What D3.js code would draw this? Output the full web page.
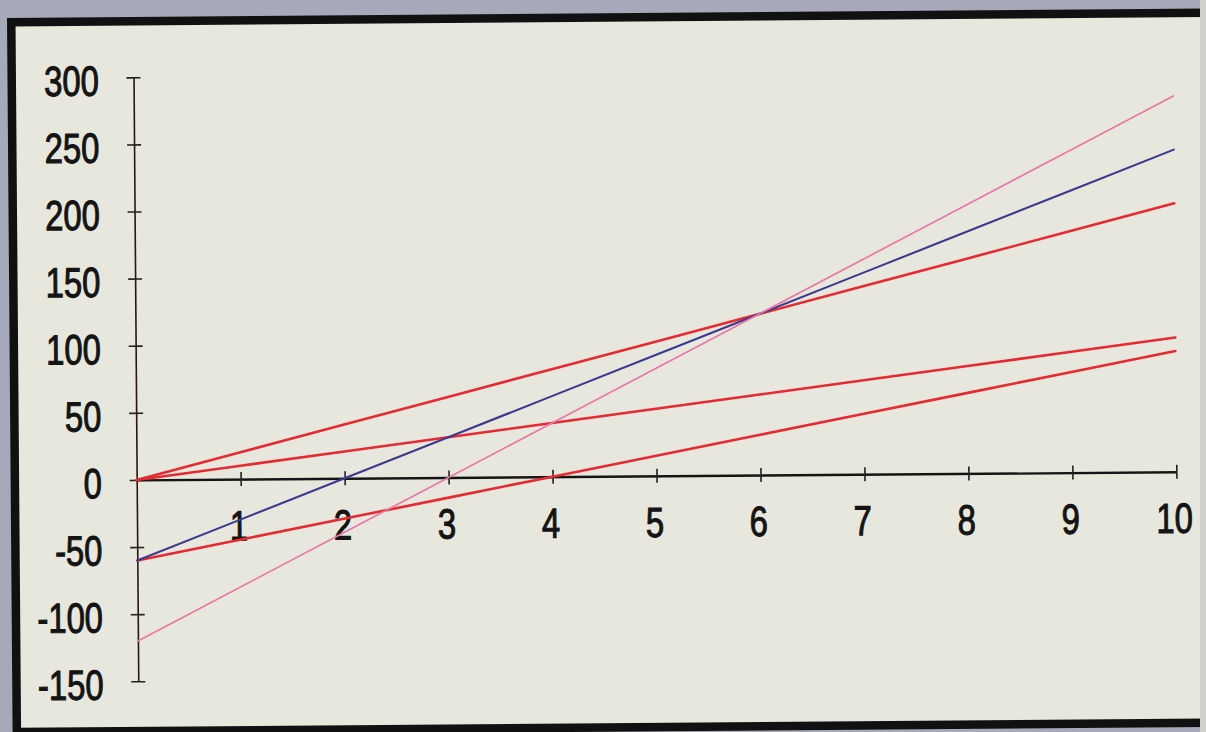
<!DOCTYPE html>
<html>
<head>
<meta charset="utf-8">
<script src="https://cdn.jsdelivr.net/npm/d3@7"></script>
<style>
  html, body { margin: 0; padding: 0; background: #a6a9b9; overflow: hidden; }
  svg { display: block; }
</style>
</head>
<body>
<svg id="chart" width="1206" height="732"></svg>
<script>
// x positions and the five straight-line series
const xValues    = [0, 1, 2, 3, 4, 5, 6, 7, 8, 9, 10];
const redSteep   = [0, 20, 40, 60, 80, 100, 120, 140, 160, 180, 200];
const redShallow = [0, 10, 20, 30, 40, 50, 60, 70, 80, 90, 100];
const redOffset  = [-60, -45, -30, -15, 0, 15, 30, 45, 60, 75, 90];
const blueLine   = [-60, -30, 0, 30, 60, 90, 120, 150, 180, 210, 240];
const pinkLine   = [-120, -80, -40, 0, 40, 80, 120, 160, 200, 240, 280];

// axis tick labels
const xTickLabels = [1, 2, 3, 4, 5, 6, 7, 8, 9, 10];
const yTickLabels = [-150, -100, -50, 0, 50, 100, 150, 200, 250, 300];

const W = 1206, H = 732;
const svg = d3.select("#chart");

svg.append("rect").attr("width", W).attr("height", H).attr("fill", "#a6a9b9");

// whole sheet sits slightly tilted
const sheet = svg.append("g").attr("transform", `rotate(-0.45 ${W / 2} ${H / 2})`);

// cream panel, framed on the top, left and bottom
const panel = { left: 14, top: 17.5, right: 1260, bottom: 727.5 };
sheet.append("rect")
  .attr("x", panel.left).attr("y", panel.top)
  .attr("width", panel.right - panel.left).attr("height", panel.bottom - panel.top)
  .attr("fill", "#e7e7dd");
sheet.append("path")
  .attr("d", `M${panel.right},${panel.top}H${panel.left}V${panel.bottom}H${panel.right}`)
  .attr("fill", "none")
  .attr("stroke", "#111")
  .attr("stroke-width", 8.5);

// pale strip along the right edge of the sheet
svg.append("rect")
  .attr("x", 1200).attr("y", 0).attr("width", 6).attr("height", H)
  .attr("fill", "#cfd0c9");

const x = d3.scaleLinear().domain([0, 10]).range([135.8, 1175.5]);
const y = d3.scaleLinear().domain([-150, 300]).range([677.6, 73.6]);

const labelFont = "'Liberation Sans', Arial, sans-serif";

// y axis
const yAxis = sheet.append("g")
  .attr("transform", `translate(${x(0)},0)`)
  .call(d3.axisLeft(y).tickValues(yTickLabels).tickSizeOuter(0).tickFormat(""));
yAxis.select(".domain").attr("stroke", "#2a1518").attr("stroke-width", 1.6);
yAxis.selectAll(".tick line").attr("x1", -7).attr("x2", 7).attr("stroke", "#222").attr("stroke-width", 1.6);
yAxis.selectAll(".tick text").remove();

sheet.append("g").selectAll("text")
  .data(yTickLabels)
  .join("text")
  .attr("transform", d => `translate(101,${y(d) + 18}) scale(0.78,1)`)
  .attr("text-anchor", "end")
  .attr("font-family", labelFont)
  .attr("font-size", 42)
  .attr("fill", "#141414")
  .attr("stroke", "#141414")
  .attr("stroke-width", 1.1)
  .text(d => d);

// x axis
const xAxis = sheet.append("g")
  .attr("transform", `translate(0,${y(0)})`)
  .call(d3.axisBottom(x).tickValues(xTickLabels).tickSizeOuter(0).tickFormat(""));
xAxis.select(".domain").attr("stroke", "#151515").attr("stroke-width", 2.3);
xAxis.selectAll(".tick line").attr("y1", -7).attr("y2", 7).attr("stroke", "#222").attr("stroke-width", 1.6);
xAxis.selectAll(".tick text").remove();

sheet.append("g").selectAll("text")
  .data(xTickLabels)
  .join("text")
  .attr("transform", d => `translate(${x(d) - 2},${y(0) + 61}) scale(0.78,1)`)
  .attr("text-anchor", "middle")
  .attr("font-family", labelFont)
  .attr("font-size", 42)
  .attr("fill", "#141414")
  .attr("stroke", "#141414")
  .attr("stroke-width", 1.1)
  .text(d => d);

// lines
const series = [
  { values: redSteep,   color: "#e62a32", width: 2.6 },
  { values: redShallow, color: "#e62a32", width: 2.6 },
  { values: redOffset,  color: "#e62a32", width: 2.6 },
  { values: blueLine,   color: "#3b3a8e", width: 2.1 },
  { values: pinkLine,   color: "#e878a6", width: 1.7 }
];

const line = d3.line().x((d, i) => x(xValues[i])).y(d => y(d));

sheet.append("g").selectAll("path")
  .data(series)
  .join("path")
  .attr("d", s => line(s.values))
  .attr("fill", "none")
  .attr("stroke", s => s.color)
  .attr("stroke-width", s => s.width)
  .attr("stroke-linecap", "round");
</script>
</body>
</html>
